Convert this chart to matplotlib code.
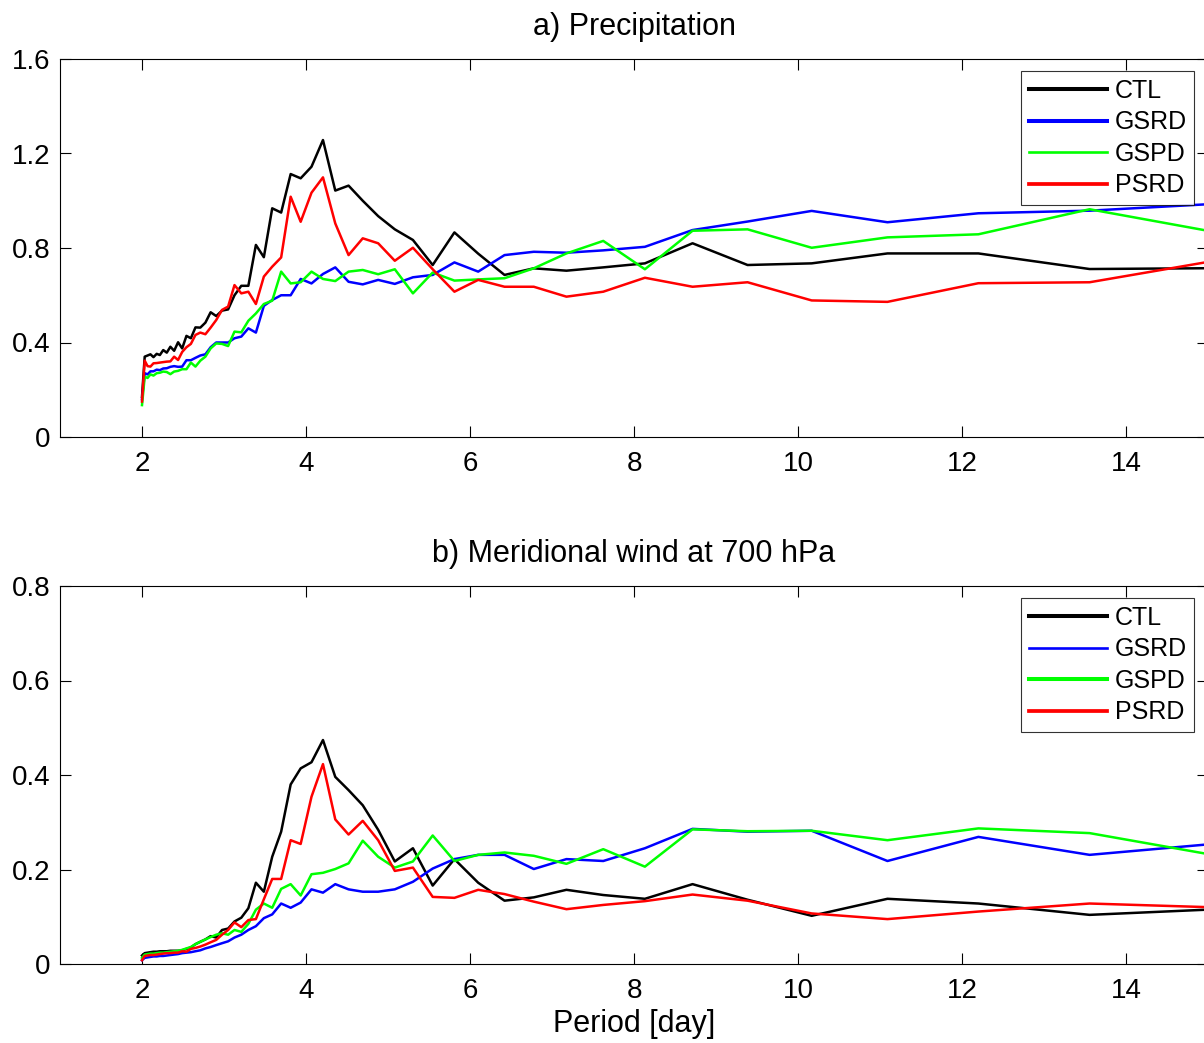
import numpy as np
import matplotlib
matplotlib.use('Agg')
import matplotlib.pyplot as plt
from matplotlib.ticker import FormatStrFormatter

plt.rcParams['font.family'] = ['Liberation Sans', 'DejaVu Sans']

# period axis [day]
periods = [2.000, 2.033, 2.068, 2.103, 2.140, 2.179, 2.218, 2.259, 2.302, 2.346,
           2.392, 2.440, 2.490, 2.542, 2.596, 2.652, 2.711, 2.773, 2.837, 2.905,
           2.976, 3.050, 3.128, 3.211, 3.297, 3.389, 3.486, 3.588, 3.697, 3.813,
           3.935, 4.067, 4.207, 4.357, 4.519, 4.692, 4.880, 5.083, 5.304, 5.545,
           5.810, 6.100, 6.421, 6.778, 7.176, 7.625, 8.133, 8.714, 9.385, 10.167,
           11.091, 12.200, 13.556, 15.250]

# a) precipitation
precip_ctl = [0.17, 0.34, 0.345, 0.35, 0.338, 0.352, 0.347, 0.368, 0.357, 0.382,
              0.365, 0.401, 0.375, 0.428, 0.418, 0.464, 0.463, 0.484, 0.528, 0.512,
              0.535, 0.54, 0.60, 0.64, 0.64, 0.813, 0.761, 0.968, 0.95, 1.113,
              1.095, 1.144, 1.257, 1.043, 1.064, 1.0, 0.935, 0.879, 0.834, 0.728,
              0.866, 0.776, 0.686, 0.714, 0.704, 0.718, 0.735, 0.82, 0.728, 0.735,
              0.777, 0.777, 0.711, 0.715]
precip_gsrd = [0.16, 0.27, 0.265, 0.278, 0.278, 0.285, 0.283, 0.29, 0.291, 0.297,
               0.30, 0.297, 0.298, 0.325, 0.325, 0.335, 0.345, 0.35, 0.38, 0.40,
               0.40, 0.40, 0.418, 0.425, 0.46, 0.442, 0.555, 0.58, 0.60, 0.60,
               0.669, 0.65, 0.69, 0.718, 0.657, 0.646, 0.665, 0.648, 0.676, 0.686,
               0.739, 0.70, 0.77, 0.784, 0.78, 0.79, 0.805, 0.876, 0.912, 0.957,
               0.909, 0.947, 0.958, 0.99]
precip_gspd = [0.135, 0.255, 0.25, 0.265, 0.26, 0.27, 0.272, 0.277, 0.275, 0.266,
               0.277, 0.28, 0.287, 0.287, 0.315, 0.298, 0.323, 0.34, 0.375, 0.396,
               0.394, 0.385, 0.446, 0.443, 0.492, 0.523, 0.563, 0.577, 0.70, 0.65,
               0.655, 0.70, 0.669, 0.66, 0.70, 0.707, 0.689, 0.71, 0.608, 0.696,
               0.662, 0.667, 0.672, 0.714, 0.777, 0.83, 0.71, 0.873, 0.879, 0.801,
               0.845, 0.858, 0.964, 0.857]
precip_psrd = [0.15, 0.323, 0.30, 0.298, 0.312, 0.313, 0.315, 0.317, 0.319, 0.32,
               0.34, 0.326, 0.36, 0.38, 0.394, 0.432, 0.442, 0.435, 0.463, 0.495,
               0.538, 0.552, 0.643, 0.608, 0.615, 0.563, 0.679, 0.721, 0.76, 1.017,
               0.911, 1.034, 1.099, 0.904, 0.77, 0.841, 0.82, 0.746, 0.801, 0.71,
               0.615, 0.665, 0.636, 0.636, 0.594, 0.615, 0.674, 0.636, 0.655, 0.578,
               0.572, 0.651, 0.655, 0.756]

# b) meridional wind at 700 hPa
wind_ctl = [0.018, 0.023, 0.024, 0.025, 0.026, 0.026, 0.027, 0.027, 0.027, 0.028,
            0.028, 0.028, 0.029, 0.032, 0.035, 0.042, 0.047, 0.052, 0.059, 0.056,
            0.072, 0.075, 0.090, 0.098, 0.118, 0.172, 0.153, 0.227, 0.280, 0.380,
            0.414, 0.427, 0.474, 0.396, 0.368, 0.336, 0.284, 0.217, 0.245, 0.166,
            0.222, 0.172, 0.134, 0.141, 0.157, 0.146, 0.138, 0.169, 0.136, 0.102,
            0.138, 0.128, 0.104, 0.117]
wind_gsrd = [0.008, 0.013, 0.014, 0.015, 0.016, 0.016, 0.017, 0.017, 0.018, 0.019,
             0.02, 0.021, 0.023, 0.024, 0.025, 0.027, 0.029, 0.033, 0.036, 0.040,
             0.044, 0.048, 0.056, 0.062, 0.072, 0.08, 0.097, 0.105, 0.128, 0.119,
             0.130, 0.158, 0.151, 0.169, 0.158, 0.153, 0.153, 0.158, 0.174, 0.202,
             0.222, 0.231, 0.231, 0.201, 0.222, 0.218, 0.245, 0.286, 0.28, 0.282,
             0.218, 0.269, 0.231, 0.257]
wind_gspd = [0.013, 0.02, 0.021, 0.022, 0.022, 0.023, 0.024, 0.024, 0.025, 0.026,
             0.027, 0.028, 0.030, 0.033, 0.036, 0.042, 0.047, 0.052, 0.057, 0.062,
             0.065, 0.062, 0.072, 0.068, 0.085, 0.115, 0.128, 0.119, 0.159, 0.169,
             0.145, 0.190, 0.193, 0.201, 0.213, 0.261, 0.227, 0.204, 0.217, 0.272,
             0.218, 0.231, 0.236, 0.229, 0.212, 0.243, 0.206, 0.285, 0.281, 0.282,
             0.262, 0.287, 0.277, 0.225]
wind_psrd = [0.008, 0.017, 0.018, 0.019, 0.019, 0.02, 0.021, 0.022, 0.023, 0.023,
             0.024, 0.024, 0.027, 0.026, 0.032, 0.034, 0.037, 0.041, 0.046, 0.051,
             0.062, 0.072, 0.088, 0.078, 0.093, 0.095, 0.137, 0.180, 0.180, 0.262,
             0.254, 0.354, 0.423, 0.306, 0.274, 0.303, 0.262, 0.197, 0.204, 0.142,
             0.140, 0.157, 0.148, 0.132, 0.116, 0.125, 0.133, 0.147, 0.134, 0.107,
             0.095, 0.111, 0.128, 0.119]

labels = ['CTL', 'GSRD', 'GSPD', 'PSRD']
colors = ['black', '#0000ff', '#00ff00', '#ff0000']
xticks = [2, 4, 6, 8, 10, 12, 14]

FS = 22      # titles / axis label
TICK_FS = 20
LEG_FS = 18


def draw_panel(ax, series, title, ymax, ystep, legend_widths):
    for vals, lab, col in zip(series, labels, colors):
        ax.plot(periods, vals, color=col, lw=1.8, label=lab)
    ax.set_xlim(1, 15)
    ax.set_ylim(0, ymax)
    ax.set_xticks(xticks)
    ax.set_yticks(np.arange(0, ymax + 1e-9, ystep))
    ax.yaxis.set_major_formatter(FormatStrFormatter('%g'))
    ax.tick_params(direction='in', length=8, width=0.8, top=True, right=True,
                   labelsize=TICK_FS)
    ax.tick_params(axis='x', pad=10)
    ax.tick_params(axis='y', pad=7)
    for sp in ax.spines.values():
        sp.set_linewidth(0.8)
    ax.set_title(title, fontsize=FS, pad=17)
    leg = ax.legend(loc='upper right', bbox_to_anchor=(0.988, 0.967),
                    borderaxespad=0, fontsize=LEG_FS, frameon=True, fancybox=False,
                    edgecolor='black', handlelength=3.12, handletextpad=0.32,
                    labelspacing=0.3, borderpad=0.3)
    leg.get_frame().set_linewidth(0.8)
    for line, w in zip(leg.get_lines(), legend_widths):
        line.set_linewidth(w)


fig = plt.figure(figsize=(12.04, 10.43), dpi=100)
ax1 = fig.add_axes([60 / 1204, 1 - 437 / 1043, 1148 / 1204, 378 / 1043])
ax2 = fig.add_axes([60 / 1204, 1 - 964 / 1043, 1148 / 1204, 378 / 1043])

draw_panel(ax1, [precip_ctl, precip_gsrd, precip_gspd, precip_psrd],
           'a) Precipitation', 1.6, 0.4, [2.9, 2.9, 1.9, 2.7])
draw_panel(ax2, [wind_ctl, wind_gsrd, wind_gspd, wind_psrd],
           'b) Meridional wind at 700 hPa', 0.8, 0.2, [2.9, 1.9, 2.9, 2.7])
ax2.set_xlabel('Period [day]', fontsize=FS, labelpad=4)

fig.savefig('out.png', dpi=100)
